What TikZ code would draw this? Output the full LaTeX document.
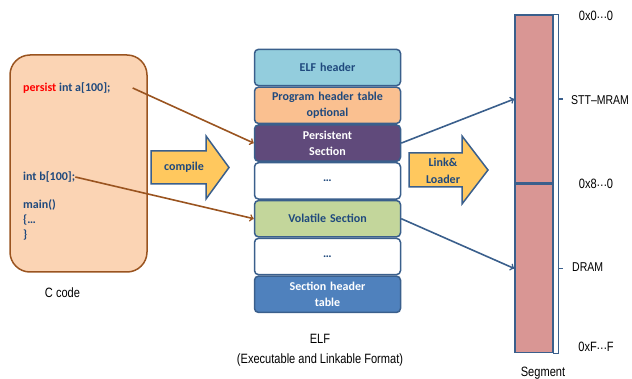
\documentclass[tikz,border=0pt]{standalone}
\usepackage{fontspec}
\setmainfont{Liberation Sans}
\newfontfamily\calibri{Carlito}
\newfontfamily\narrowfont[FakeStretch=0.82]{Liberation Sans}
\usetikzlibrary{shapes,arrows,positioning}
\definecolor{srcpeach}{HTML}{FBD4B4}
\definecolor{srcbrown}{HTML}{9A5420}
\definecolor{elfline}{HTML}{3A5F8C}
\definecolor{txtblue}{HTML}{1F497D}
\definecolor{elfcyan}{HTML}{93CDDD}
\definecolor{elforange}{HTML}{FAC090}
\definecolor{elfpurple}{HTML}{604A7B}
\definecolor{elfgreen}{HTML}{C3D69B}
\definecolor{elfblue}{HTML}{4F81BD}
\definecolor{arrowyellow}{HTML}{FFC85E}
\definecolor{segpink}{HTML}{D99694}
\tikzstyle{elfbox} = [draw=elfline, line width=1.5pt, rounded corners=4pt, minimum width=146pt, minimum height=36.3pt, text width=140pt, inner sep=0pt, text=txtblue, font=\calibri\bfseries\fontsize{12}{15.5}\selectfont]
\tikzstyle{code} = [inner sep=0pt, text=txtblue, font=\calibri\bfseries\fontsize{12}{15}\selectfont]
\tikzstyle{caption} = [inner sep=0pt, font=\narrowfont\fontsize{13.5}{20}\selectfont]
\tikzstyle{seglabel} = [caption, font=\narrowfont\fontsize{12.8}{20}\selectfont]
\tikzstyle{arrowtext} = [inner sep=0pt, text=txtblue, font=\calibri\bfseries\fontsize{12}{17}\selectfont]
\tikzstyle{bigarrow} = [draw=elfline, fill=arrowyellow, line width=1.5pt, line join=miter]
\tikzstyle{segbox} = [draw=elfline, fill=segpink, line width=1.5pt, minimum width=38pt, minimum height=168pt, inner sep=0pt]
\tikzset{
  srcline/.style ={draw=srcbrown, line width=1.6pt, ->},
  mapline/.style ={draw=elfline, line width=1.6pt, ->}
}
\newcommand{\addrdots}{\raisebox{0.3ex}{\kern-0.5pt…\kern-0.5pt}}
\begin{document}
\begin{tikzpicture}[x=1pt,y=-1pt, every node/.style={align=center}]
  \useasboundingbox (0,0) rectangle (632,379);

  % C code
  \node[draw=srcbrown, fill=srcpeach, line width=1.5pt, rounded corners=20pt, minimum width=137pt, minimum height=217pt] (ccode) at (78.5,163.5) {};
  \node[code, anchor=west] (vara) at (23,88) {\textcolor{red}{persist} int a[100];};
  \node[code, anchor=west] (varb) at (23,177) {int b[100];};
  \node[code, anchor=north west, align=left] (mainfn) at (23,199) {main()\\\{…\\\}};
  \node[caption] (ccap) at (62.5,293) {C code};

  % compile arrow
  \draw[bigarrow] (151,151) -- (206,151) -- (206,136) -- (229,167.5) -- (206,199) -- (206,184) -- (151,184) -- cycle;
  \node[arrowtext] (compile) at (184,167.5) {compile};

  % ELF
  \node[elfbox, fill=elfcyan] (elfhdr) at (327.5,67.5) {ELF header};
  \node[elfbox, fill=elforange, below=0pt of elfhdr] (proghdr) {Program header table\\optional};
  \node[elfbox, fill=elfpurple, text=white, below=0pt of proghdr] (persec) {Persistent\\Section};
  \node[elfbox, fill=white, below=0pt of persec] (dots1) {…};
  \node[elfbox, fill=elfgreen, below=0pt of dots1] (volsec) {Volatile Section};
  \node[elfbox, fill=white, below=0pt of volsec] (dots2) {…};
  \node[elfbox, fill=elfblue, text=white, below=0pt of dots2] (sechdr) {Section header\\table};
  \node[caption] (elfcap) at (320,350) {ELF\\(Executable and Linkable Format)};

  % link & loader arrow
  \draw[bigarrow] (409,153) -- (462,153) -- (462,136) -- (488,170) -- (462,204) -- (462,187) -- (409,187) -- cycle;
  \node[arrowtext] (loader) at (443,171) {Link\&\\Loader};

  % Segment
  \node[segbox] (mram) at (534,99) {};
  \node[segbox, below=0pt of mram] (dram) {};
  \draw[elfline, line width=1.2pt] (mram.north east) rectangle ([xshift=5pt]dram.south east);
  \draw[elfline, line width=1.2pt] ([xshift=5pt]mram.east) -- ++(4,0);
  \draw[elfline, line width=1.2pt] ([xshift=5pt]dram.east) -- ++(4,0);
  \node[seglabel, anchor=west] (mramlbl) at (571,100) {STT–MRAM};
  \node[seglabel, anchor=west] (dramlbl) at (572,267) {DRAM};
  \node[caption] (addr0) at (596,16) {0x0\addrdots0};
  \node[caption] (addr8) at (596,184) {0x8\addrdots0};
  \node[caption] (addrf) at (596,347) {0xF\addrdots F};
  \node[caption] (segcap) at (543,373) {Segment};

  \begin{scope}[every path/.style=srcline]
    \path ([xshift=22pt]vara.east) -- (persec.west);
    \path (varb.east) -- (volsec.west);
  \end{scope}
  \begin{scope}[every path/.style=mapline]
    \path (persec.east) -- (mram.west);
    \path (volsec.east) -- (dram.west);
  \end{scope}

\end{tikzpicture}
\end{document}
